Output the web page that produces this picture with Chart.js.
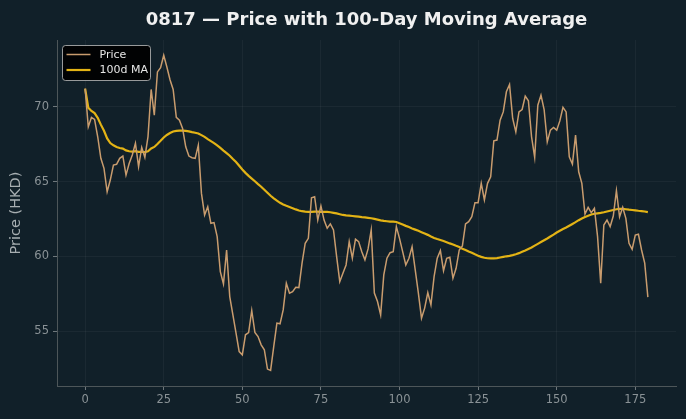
<!DOCTYPE html>
<html>
<head>
<meta charset="utf-8">
<script src="https://cdn.jsdelivr.net/npm/chart.js@4/dist/chart.umd.min.js"></script>
<style>
  html, body { margin: 0; padding: 0; background: #112029; }
  #wrap { width: 686px; height: 419px; }
</style>
</head>
<body>
<div id="wrap"><canvas id="c" width="686" height="419"></canvas></div>
<script>
const chartTitle = '0817 — Price with 100-Day Moving Average';
const yAxisLabel = 'Price (HKD)';
const seriesNames = ['Price', '100d MA'];
const xTicks = [0, 25, 50, 75, 100, 125, 150, 175];
const yTicks = [55, 60, 65, 70];

const price = [
  71.2, 68.65, 69.28, 69.15, 67.99, 66.55, 65.88, 64.32, 65.1, 66.1,
  66.15, 66.55, 66.7, 65.43, 66.2, 66.77, 67.55, 65.99, 67.28, 66.61,
  68.0, 71.15, 69.43, 72.32, 72.6, 73.43, 72.65, 71.8, 71.15, 69.28,
  69.1, 68.55, 67.32, 66.7, 66.59, 66.55, 67.43, 64.21, 62.77, 63.32,
  62.21, 62.26, 61.32, 58.99, 58.17, 60.43, 57.32, 56.1, 54.88, 53.65,
  53.43, 54.77, 54.92, 56.39, 54.92, 54.65, 54.1, 53.77, 52.48, 52.39,
  54.0, 55.55, 55.5, 56.43, 58.21, 57.55, 57.65, 57.94, 57.92, 59.55,
  60.88, 61.21, 63.92, 63.99, 62.43, 63.37, 62.43, 61.88, 62.17, 61.77,
  59.99, 58.32, 58.88, 59.43, 60.99, 59.88, 61.15, 60.99, 60.32, 59.77,
  60.5, 61.77, 57.55, 56.99, 56.1, 58.77, 59.88, 60.25, 60.32, 61.99,
  61.21, 60.32, 59.43, 59.88, 60.65, 59.1, 57.55, 55.88, 56.55, 57.59,
  56.77, 58.65, 59.88, 60.39, 59.05, 59.88, 59.95, 58.55, 59.21, 60.43,
  60.7, 62.17, 62.32, 62.65, 63.59, 63.59, 64.88, 63.77, 64.88, 65.32,
  67.72, 67.77, 69.1, 69.65, 70.99, 71.48, 69.21, 68.32, 69.65, 69.81,
  70.7, 70.39, 67.99, 66.61, 70.1, 70.77, 69.81, 67.65, 68.43, 68.61,
  68.43, 69.05, 69.95, 69.65, 66.65, 66.17, 68.1, 65.65, 64.88, 62.83,
  63.28, 62.92, 63.21, 61.32, 58.21, 62.1, 62.43, 61.99, 62.7, 64.39,
  62.65, 63.28, 62.54, 60.88, 60.48, 61.43, 61.48, 60.43, 59.55, 57.28
];

const ma100 = [
  71.2, 69.93, 69.71, 69.57, 69.25, 68.8, 68.39, 67.88, 67.57, 67.42,
  67.31, 67.24, 67.2, 67.08, 67.02, 67.0, 67.03, 66.98, 66.99, 66.97,
  67.02, 67.21, 67.31, 67.51, 67.72, 67.94, 68.11, 68.24, 68.34, 68.38,
  68.4, 68.4, 68.38, 68.35, 68.3, 68.26, 68.21, 68.1, 67.98, 67.83,
  67.7, 67.57, 67.42, 67.25, 67.07, 66.9, 66.72, 66.5, 66.3, 66.05,
  65.8, 65.58, 65.38, 65.2, 65.02, 64.83, 64.65, 64.45, 64.25, 64.05,
  63.88, 63.72, 63.58, 63.47, 63.38, 63.3, 63.22, 63.14, 63.07, 63.02,
  62.99, 62.98, 62.98, 62.99, 62.99, 62.98, 62.97, 62.97, 62.95, 62.91,
  62.87, 62.82, 62.77, 62.74, 62.72, 62.7, 62.68, 62.66, 62.63, 62.61,
  62.58, 62.55, 62.51, 62.46, 62.41, 62.37, 62.35, 62.33, 62.32, 62.3,
  62.22, 62.13, 62.04, 61.96, 61.87, 61.79, 61.71, 61.62, 61.53, 61.44,
  61.33, 61.23, 61.16, 61.1, 61.03, 60.95, 60.87, 60.8, 60.71, 60.63,
  60.52, 60.43, 60.33, 60.24, 60.14, 60.05, 59.97, 59.91, 59.88, 59.87,
  59.87, 59.89, 59.93, 59.97, 60.01, 60.04, 60.09, 60.15, 60.22, 60.31,
  60.4, 60.5, 60.6, 60.72, 60.84, 60.96, 61.08, 61.2, 61.33, 61.46,
  61.6, 61.72, 61.83, 61.93, 62.05, 62.17, 62.29, 62.42, 62.53, 62.63,
  62.72, 62.8, 62.85, 62.88, 62.91, 62.95, 63.0, 63.05, 63.1, 63.15,
  63.18, 63.18, 63.15, 63.12, 63.1, 63.08, 63.05, 63.03, 63.0, 62.96
];

const days = price.map((_, i) => i);

const BG = '#112029';
const FONT = "'DejaVu Sans', 'Liberation Sans', sans-serif";

const bgPlugin = {
  id: 'bg',
  beforeDraw(chart) {
    const ctx = chart.ctx;
    ctx.save();
    ctx.fillStyle = BG;
    ctx.fillRect(0, 0, chart.width, chart.height);
    ctx.restore();
  }
};

const titlePlugin = {
  id: 'axesTitle',
  afterDraw(chart) {
    const ctx = chart.ctx;
    const a = chart.chartArea;
    ctx.save();
    ctx.fillStyle = '#f0f0f0';
    ctx.font = 'bold 18px ' + FONT;
    ctx.textAlign = 'center';
    ctx.textBaseline = 'alphabetic';
    ctx.fillText(chartTitle, (a.left + a.right) / 2, 24.5);
    ctx.restore();
  }
};

const legendPlugin = {
  id: 'boxLegend',
  afterDatasetsDraw(chart) {
    const ctx = chart.ctx;
    const a = chart.chartArea;
    const x = a.left + 5.5, y = a.top + 5.5, w = 88, h = 35;
    ctx.save();
    ctx.beginPath();
    if (ctx.roundRect) ctx.roundRect(x, y, w, h, 3); else ctx.rect(x, y, w, h);
    ctx.fillStyle = 'rgba(0,0,0,0.92)';
    ctx.fill();
    ctx.strokeStyle = 'rgba(200,200,200,0.75)';
    ctx.lineWidth = 1;
    ctx.stroke();
    chart.data.datasets.forEach((ds, k) => {
      const ly = y + 9 + k * 15.5;
      ctx.beginPath();
      ctx.moveTo(x + 4, ly);
      ctx.lineTo(x + 28, ly);
      ctx.strokeStyle = ds.borderColor;
      ctx.lineWidth = ds.borderWidth;
      ctx.stroke();
      ctx.fillStyle = '#e6e6e6';
      ctx.font = '11px ' + FONT;
      ctx.textBaseline = 'middle';
      ctx.textAlign = 'left';
      ctx.fillText(ds.label, x + 37, ly + 0.5);
    });
    ctx.restore();
  }
};

new Chart(document.getElementById('c'), {
  type: 'line',
  data: {
    datasets: [
      {
        label: seriesNames[0],
        data: days.map((d, i) => ({ x: d, y: price[i] })),
        borderColor: '#c99c6e',
        borderWidth: 1.5,
        pointRadius: 0,
        tension: 0,
        fill: false
      },
      {
        label: seriesNames[1],
        data: days.map((d, i) => ({ x: d, y: ma100[i] })),
        borderColor: '#e3b315',
        borderWidth: 2.2,
        pointRadius: 0,
        tension: 0,
        fill: false
      }
    ]
  },
  options: {
    responsive: false,
    animation: false,
    devicePixelRatio: 1,
    layout: { padding: { left: 0, right: 10, top: 40, bottom: 0 } },
    plugins: {
      legend: { display: false },
      tooltip: { enabled: false },
      title: { display: false }
    },
    scales: {
      x: {
        type: 'linear',
        min: -8.95,
        max: 187.95,
        afterBuildTicks: s => { s.ticks = xTicks.map(v => ({ value: v })); },
        afterFit: s => { s.height = 33; },
        grid: { color: 'rgba(255,255,255,0.045)', tickColor: '#6f787c', tickLength: 4, drawTicks: true },
        border: { display: true, color: '#4d5659', width: 1 },
        ticks: { color: '#8a9296', font: { family: FONT, size: 11.5 }, padding: 3, maxRotation: 0 }
      },
      y: {
        type: 'linear',
        min: 51.35,
        max: 74.45,
        afterBuildTicks: s => { s.ticks = yTicks.map(v => ({ value: v })); },
        afterFit: s => { s.width = 57; },
        grid: { color: 'rgba(255,255,255,0.045)', tickColor: '#6f787c', tickLength: 4, drawTicks: true },
        border: { display: true, color: '#4d5659', width: 1 },
        ticks: { color: '#8a9296', font: { family: FONT, size: 11.5 }, padding: 4 },
        title: {
          display: true,
          text: yAxisLabel,
          color: '#a7aeb1',
          font: { family: FONT, size: 14.5 },
          padding: { top: 8, bottom: 4 }
        }
      }
    }
  },
  plugins: [bgPlugin, titlePlugin, legendPlugin]
});
</script>
</body>
</html>
